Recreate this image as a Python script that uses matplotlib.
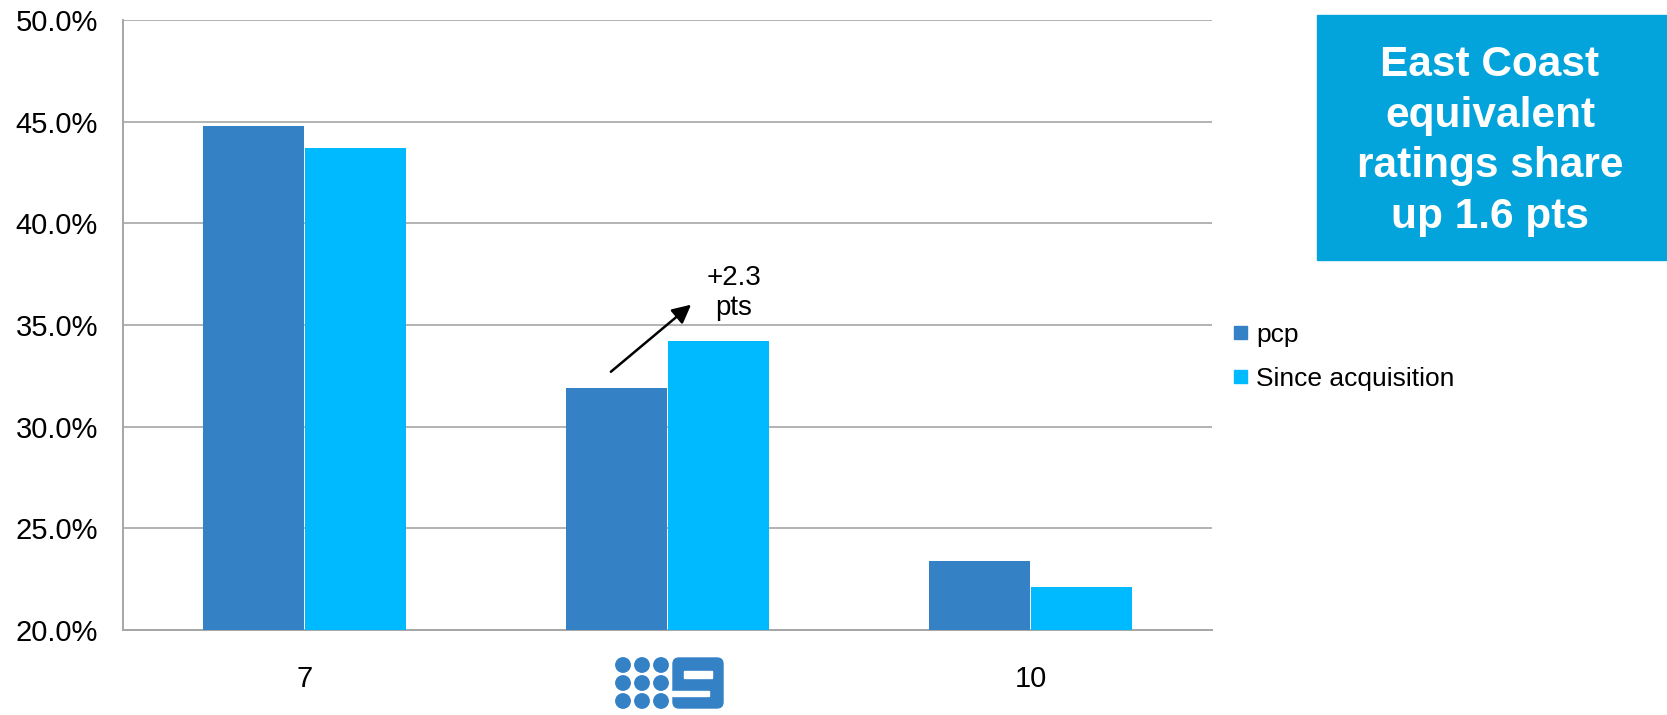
import numpy as np
import matplotlib
matplotlib.use('Agg')
import matplotlib.pyplot as plt
from matplotlib.patches import Rectangle, Circle, FancyBboxPatch

plt.rcParams['font.family'] = ['Liberation Sans', 'DejaVu Sans']

# Data (ratings share, %)
channels = ['7', '9', '10']
pcp = [44.8, 31.9, 23.4]
since_acq = [43.7, 34.2, 22.1]
series_names = ['pcp', 'Since acquisition']
yticks = [20, 25, 30, 35, 40, 45, 50]

c_pcp = '#3481C6'
c_since = '#00BAFF'
c_grid = '#A6A6A6'
c_box = '#03A4DB'

W, H = 1667, 715
fig = plt.figure(figsize=(W / 100, H / 100), dpi=100)
ax = fig.add_axes([123 / W, 1 - 630 / H, (1212 - 123) / W, 610 / H])

x = np.arange(len(channels))
bw = 0.277
ax.bar(x - 0.141, pcp, width=bw, color=c_pcp, zorder=3, label=series_names[0])
ax.bar(x + 0.141, since_acq, width=bw, color=c_since, zorder=3, label=series_names[1])

ax.set_xlim(-0.5, 2.5)
ax.set_ylim(20, 50)
ax.set_yticks(yticks)
ax.set_yticklabels([f'{v:.1f}%' for v in yticks], fontsize=21)
ax.set_xticks(x)
ax.set_xticklabels([channels[0], '', channels[2]], fontsize=21)
ax.tick_params(axis='both', length=0)
ax.tick_params(axis='x', pad=25)
ax.tick_params(axis='y', pad=18)
ax.yaxis.grid(True, color=c_grid, linewidth=1.2, zorder=0)
for s in ['top', 'right']:
    ax.spines[s].set_visible(False)
for s in ['left', 'bottom']:
    ax.spines[s].set_color(c_grid)
    ax.spines[s].set_linewidth(1.4)

# Annotation arrow for the 9 network gain
ax.annotate('', xy=(1.065, 36.0), xytext=(0.844, 32.7),
            arrowprops=dict(arrowstyle='-|>', color='black', lw=1.8,
                            mutation_scale=28, shrinkA=0, shrinkB=0))
ax.text(1.183, 36.55, '+{:.1f}\npts'.format(since_acq[1] - pcp[1]),
        ha='center', va='center', fontsize=20, linespacing=1.2)

# Legend
handles = [Rectangle((0, 0), 1, 1, color=c_pcp), Rectangle((0, 0), 1, 1, color=c_since)]
fig.legend(handles, series_names, loc='center left',
           bbox_to_anchor=(1210 / W, 1 - 357 / H), frameon=False, fontsize=19,
           handlelength=0.5, handleheight=0.35, handletextpad=0.35,
           labelspacing=0.75)

# Overlay in pixel coordinates for the logo and the call-out box
ov = fig.add_axes([0, 0, 1, 1])
ov.set_xlim(0, W)
ov.set_ylim(H, 0)
ov.axis('off')
ov.patch.set_visible(False)

# Nine network logo
for cx in [623, 642, 661]:
    for cy in [665, 683, 701]:
        ov.add_patch(Circle((cx, cy), 7.2, color=c_pcp))
ov.add_patch(FancyBboxPatch((673, 658), 50, 50, boxstyle='round,pad=0,rounding_size=6',
                            color=c_pcp))
ov.add_patch(Rectangle((684, 671), 28, 7, color='white'))
ov.add_patch(Rectangle((672, 691), 37, 5, color='white'))

# Call-out box
ov.add_patch(Rectangle((1317, 15), W - 1317, 245, color=c_box))
ov.text(1490, 141, 'East Coast\nequivalent\nratings share\nup 1.6 pts',
        ha='center', va='center', color='white', fontsize=30.5,
        fontweight='bold', linespacing=1.34)

fig.savefig('out.png', dpi=100)
